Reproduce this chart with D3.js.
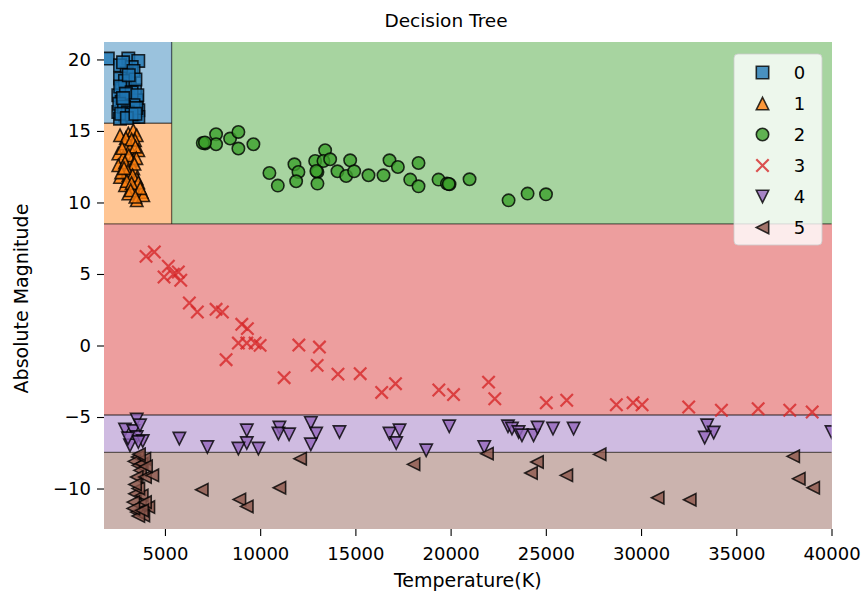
<!DOCTYPE html>
<html>
<head>
<meta charset="utf-8">
<script src="https://cdn.jsdelivr.net/npm/d3@7"></script>
<style>
  body { margin: 0; background: #fff; }
  text { font-family: "DejaVu Sans", sans-serif; fill: #000; }
</style>
</head>
<body>
<svg id="chart" width="865" height="597"></svg>
<script>
// ---- classes ----
const classLabels  = ["0", "1", "2", "3", "4", "5"];
const classColors  = ["#1f77b4", "#ff7f0e", "#3ca02c", "#d62728", "#9467bd", "#8c564b"];
const classMarkers = ["square", "triangleUp", "circle", "x", "triangleDown", "triangleLeft"];

// ---- axis extents and ticks ----
const tempExtent = [1800, 40000];
const magExtent  = [-12.83, 21.22];
const tempTicks  = [5000, 10000, 15000, 20000, 25000, 30000, 35000, 40000];
const magTicks   = [-10, -5, 0, 5, 10, 15, 20];

// ---- tree splits (temperature, magnitude thresholds) ----
const tempSplit = 5350;
const magSplits = [-7.47, -4.86, 8.5, 15.54];

// ---- stars by class: [temperature (K), absolute magnitude] ----
const stars0 = [[2000,20.06],[3077,20.06],[3600,19.9],[2641,19.59],[3255,19.47],[2993,19.01],[2641,18.66],[3166,18.31],[2730,17.96],[3429,17.84],[2551,17.49],[3077,17.37],[3518,17.14],[2730,17.03],[3166,16.44],[3602,16.44],[2551,16.33],[2903,16.1],[3340,15.98],[2641,15.86],[3602,15.98],[2800,19.8],[3350,19.2],[2900,18.5],[3450,18.6],[2650,18.1],[3250,17.7],[2950,17.6],[3550,17.5],[2600,16.9],[3350,16.8],[2850,16.7],[3050,16.3],[3500,16.6],[2700,16.2],[3250,16.15],[3000,15.9],[3450,16.2],[2800,17.3],[3100,18.9]];
const stars1 = [[2641,14.7],[3077,14.82],[3340,15.05],[3518,14.7],[3429,14.35],[2903,14.12],[3166,13.77],[3602,13.65],[2551,13.42],[2814,13.18],[3255,12.95],[2551,12.6],[3340,12.37],[2641,11.78],[3077,11.9],[3518,11.67],[2903,11.2],[3340,11.08],[3781,10.73],[3077,10.62],[3518,10.15],[3865,10.5],[2950,14.5],[3250,14.4],[3450,13.9],[2750,13.8],[3100,13.3],[3500,13.1],[2900,12.8],[3400,12.7],[3050,12.2],[2700,12.1],[3300,11.9],[3600,11.4],[3000,11.5],[3250,11.35],[3700,11.0],[3200,10.85],[3450,10.4],[2850,12.4]];
const stars2 = [[7107,14.12],[6986,14.16],[7685,14.77],[7685,14.07],[8421,14.47],[8857,14.93],[8857,13.77],[9645,14.07],[10486,12.06],[10927,11.18],[11799,12.67],[12010,12.13],[11889,11.48],[12887,12.9],[13008,12.13],[13008,11.32],[13412,13.65],[13323,12.9],[13675,13.02],[14059,12.18],[14516,11.85],[14726,12.95],[14936,12.18],[15688,11.9],[16476,11.9],[16791,12.95],[17232,12.48],[17879,11.6],[18315,11.13],[18315,12.76],[19366,11.6],[19807,11.32],[19944,11.27],[20995,11.62],[23044,10.15],[24042,10.62],[25009,10.57],[7100,14.2],[19900,11.3],[12950,12.2]];
const stars3 = [[4007,6.23],[4443,6.54],[5179,5.54],[4953,4.79],[5441,4.98],[5704,5.14],[5830,4.56],[6282,2.97],[6702,2.34],[7685,2.53],[8016,2.34],[9036,1.48],[9330,1.18],[8857,0.17],[9298,0.17],[9734,0.17],[9997,0.01],[8210,-0.99],[11258,-2.25],[12031,0.03],[13113,-0.11],[12992,-1.39],[14085,-2.0],[15252,-1.97],[16381,-3.28],[17106,-2.67],[19382,-3.11],[20154,-3.43],[21993,-2.56],[22319,-3.72],[25025,-4.0],[26097,-3.83],[28703,-4.14],[29581,-4.0],[30054,-4.14],[32502,-4.3],[34220,-4.53],[36149,-4.42],[37809,-4.53],[38986,-4.65]];
const stars4 = [[3518,-5.18],[2903,-5.88],[3340,-5.98],[3518,-6.4],[3834,-6.68],[3166,-6.98],[3602,-6.75],[5757,-6.51],[7228,-7.1],[9298,-5.93],[9298,-6.82],[8857,-7.21],[9908,-7.21],[11011,-5.74],[10959,-6.16],[11521,-6.21],[12661,-5.42],[12940,-6.16],[12661,-6.91],[14164,-6.05],[16791,-6.16],[17317,-5.93],[17143,-6.82],[18719,-7.33],[19928,-5.65],[23012,-5.65],[23223,-5.81],[23569,-6.05],[23748,-6.28],[24358,-6.28],[24568,-5.74],[25377,-5.81],[26459,-5.81],[21767,-7.1],[33469,-5.58],[33816,-6.09],[33343,-6.44],[40000,-6.05],[3061,-6.49],[3692,-5.58]];
const stars5 = [[3571,-7.8],[3392,-8.1],[3602,-8.38],[3781,-8.26],[3918,-7.91],[3692,-8.73],[3518,-9.2],[3954,-9.2],[4338,-9.08],[3429,-10.36],[3781,-10.48],[3340,-10.95],[3692,-11.18],[4128,-11.3],[3518,-11.65],[3865,-11.88],[3602,-11.92],[3954,-10.95],[3602,-9.99],[3340,-11.39],[3639,-7.6],[4007,-8.45],[3429,-9.71],[3797,-11.53],[6934,-10.08],[8909,-10.76],[9298,-11.25],[11011,-9.94],[12099,-7.91],[18052,-8.31],[21909,-7.56],[24536,-8.15],[24221,-8.92],[26076,-9.08],[27825,-7.61],[30873,-10.64],[32555,-10.78],[37988,-7.75],[38282,-9.31],[39039,-9.94]];
const starsByClass = [stars0, stars1, stars2, stars3, stars4, stars5];

// ---- layout ----
const plot = { left: 104, right: 831.5, top: 42, bottom: 529 };
const fontSize = 18;
const labelSize = 19;
const markerSize = 12.4;

const svg = d3.select("#chart");
const x = d3.scaleLinear().domain(tempExtent).range([plot.left, plot.right]);
const y = d3.scaleLinear().domain(magExtent).range([plot.bottom, plot.top]);

// ---- decision regions ----
const [t0, t1] = tempExtent, [m0, m1] = magExtent;
const regions = [
  { cls: 5, x0: t0, x1: t1, y0: m0, y1: magSplits[0] },
  { cls: 4, x0: t0, x1: t1, y0: magSplits[0], y1: magSplits[1] },
  { cls: 3, x0: t0, x1: t1, y0: magSplits[1], y1: magSplits[2] },
  { cls: 1, x0: t0, x1: tempSplit, y0: magSplits[2], y1: magSplits[3] },
  { cls: 0, x0: t0, x1: tempSplit, y0: magSplits[3], y1: m1 },
  { cls: 2, x0: tempSplit, x1: t1, y0: magSplits[2], y1: m1 }
];

// region fill: class colour at 0.45 alpha over white
function tint(c, a) {
  const rgb = d3.rgb(c);
  return d3.rgb(rgb.r * a + 255 * (1 - a), rgb.g * a + 255 * (1 - a), rgb.b * a + 255 * (1 - a)).formatHex();
}

svg.append("g").selectAll("rect").data(regions).join("rect")
  .attr("x", d => x(d.x0))
  .attr("y", d => y(d.y1))
  .attr("width", d => x(d.x1) - x(d.x0))
  .attr("height", d => y(d.y0) - y(d.y1))
  .attr("fill", d => tint(classColors[d.cls], 0.45))
  .attr("shape-rendering", "crispEdges");

// boundary contour lines
const boundaries = [
  [[t0, magSplits[0]], [t1, magSplits[0]]],
  [[t0, magSplits[1]], [t1, magSplits[1]]],
  [[t0, magSplits[2]], [t1, magSplits[2]]],
  [[t0, magSplits[3]], [tempSplit, magSplits[3]]],
  [[tempSplit, magSplits[2]], [tempSplit, m1]]
];
svg.append("g").selectAll("line").data(boundaries).join("line")
  .attr("x1", d => x(d[0][0])).attr("y1", d => y(d[0][1]))
  .attr("x2", d => x(d[1][0])).attr("y2", d => y(d[1][1]))
  .attr("stroke", "#000").attr("stroke-opacity", 0.55).attr("stroke-width", 1.3);

// ---- markers ----
function markerPath(type, s) {
  const h = s / 2;
  switch (type) {
    case "square":       return `M${-h},${-h}H${h}V${h}H${-h}Z`;
    case "triangleUp":   return `M0,${-h}L${-h},${h}L${h},${h}Z`;
    case "triangleDown": return `M0,${h}L${-h},${-h}L${h},${-h}Z`;
    case "triangleLeft": return `M${-h},0L${h},${-h}L${h},${h}Z`;
    case "circle":       return d3.arc()({ innerRadius: 0, outerRadius: h, startAngle: 0, endAngle: 2 * Math.PI });
    case "x":            return `M${-h},${-h}L${h},${h}M${-h},${h}L${h},${-h}`;
  }
}
function styleMarker(sel, cls) {
  const type = classMarkers[cls];
  if (type === "x") {
    sel.attr("fill", "none").attr("stroke", classColors[cls])
       .attr("stroke-opacity", 0.8).attr("stroke-width", 2.2);
  } else {
    sel.attr("fill", classColors[cls]).attr("fill-opacity", 0.8)
       .attr("stroke", "#000").attr("stroke-opacity", 0.8).attr("stroke-width", 1.6)
       .attr("stroke-linejoin", "miter");
  }
  return sel;
}

svg.append("clipPath").attr("id", "plot-clip").append("rect")
  .attr("x", plot.left).attr("y", plot.top)
  .attr("width", plot.right - plot.left).attr("height", plot.bottom - plot.top);

const pointsG = svg.append("g").attr("clip-path", "url(#plot-clip)");
starsByClass.forEach((pts, cls) => {
  pointsG.append("g").selectAll("path").data(pts).join("path")
    .attr("d", markerPath(classMarkers[cls], markerSize))
    .attr("transform", d => `translate(${x(d[0])},${y(d[1])})`)
    .call(styleMarker, cls);
});

// ---- axes ----
const xAxis = svg.append("g").attr("transform", `translate(0,${plot.bottom})`)
  .call(d3.axisBottom(x).tickValues(tempTicks).tickFormat(d3.format("d")).tickSize(7).tickPadding(11));
const yAxis = svg.append("g").attr("transform", `translate(${plot.left},0)`)
  .call(d3.axisLeft(y).tickValues(magTicks).tickFormat(d3.format("d")).tickSize(7).tickPadding(6));
[xAxis, yAxis].forEach(a => {
  a.select(".domain").remove();
  a.selectAll(".tick line").attr("stroke", "#000").attr("stroke-width", 1.1);
  a.selectAll(".tick text").attr("font-size", fontSize).attr("font-family", "DejaVu Sans").attr("fill", "#000");
});

// ---- titles ----
svg.append("text").attr("x", 446).attr("y", 27).attr("text-anchor", "middle")
  .attr("font-size", 18.5).text("Decision Tree");
svg.append("text").attr("x", (plot.left + plot.right) / 2).attr("y", 587).attr("text-anchor", "middle")
  .attr("font-size", labelSize).text("Temperature(K)");
svg.append("text").attr("transform", `translate(28,${(plot.top + plot.bottom) / 2 + 13}) rotate(-90)`)
  .attr("text-anchor", "middle").attr("font-size", labelSize).text("Absolute Magnitude");

// ---- legend ----
const legend = svg.append("g");
legend.append("rect").attr("x", 734).attr("y", 54).attr("width", 88).attr("height", 191)
  .attr("rx", 4).attr("fill", "#fff").attr("fill-opacity", 0.8)
  .attr("stroke", "#ccc").attr("stroke-opacity", 0.8);
const legendRows = legend.selectAll("g.row").data(classLabels).join("g")
  .attr("class", "row")
  .attr("transform", (d, i) => `translate(762.5,${72.5 + i * 31})`);
legendRows.append("path")
  .attr("d", (d, i) => markerPath(classMarkers[i], markerSize))
  .each(function (d, i) { styleMarker(d3.select(this), i); });
legendRows.append("text").attr("x", 37).attr("dy", "0.35em").attr("text-anchor", "middle")
  .attr("font-size", fontSize).text(d => d);
</script>
</body>
</html>
